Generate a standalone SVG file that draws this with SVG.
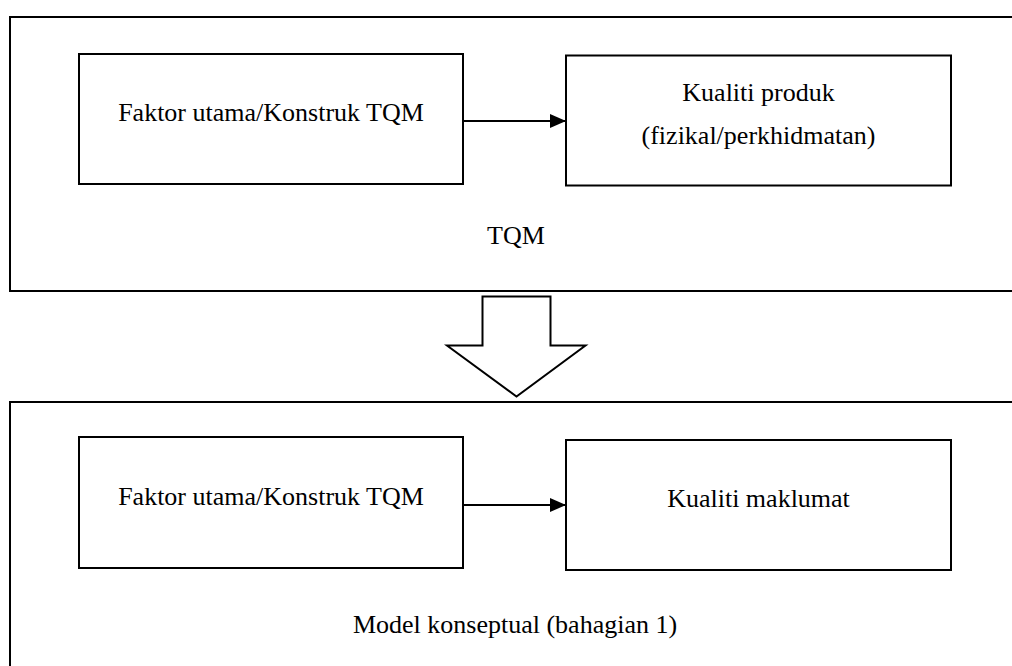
<svg xmlns="http://www.w3.org/2000/svg" width="1012" height="666" viewBox="0 0 1012 666">
  <style>
    .frame { fill: none; stroke: #000; stroke-width: 2; }
    .box { fill: #fff; stroke: #000; stroke-width: 2; }
    .label { font-family: "Liberation Serif", "Times New Roman", serif; font-size: 26px; fill: #000; text-anchor: middle; }
    .link { stroke: #000; stroke-width: 2; fill: none; marker-end: url(#head); }
  </style>
  <defs>
    <marker id="head" markerWidth="16" markerHeight="14" refX="16" refY="7" orient="auto" markerUnits="userSpaceOnUse">
      <path d="M0,0 L16,7 L0,14 Z" fill="#000"/>
    </marker>
  </defs>
  <rect width="1012" height="666" fill="#fff"/>

  <!-- upper panel: TQM -->
  <g id="panel-tqm">
    <rect class="frame" x="10" y="17" width="1012" height="274"/>
    <text class="label" x="516" y="244">TQM</text>
  </g>
  <g id="tqm-factor">
    <rect class="box" x="79" y="54" width="384" height="130"/>
    <text class="label" x="271" y="121">Faktor utama/Konstruk TQM</text>
  </g>
  <g id="tqm-product">
    <rect class="box" x="566" y="55.5" width="385" height="130"/>
    <text class="label" x="758.5" y="101">Kualiti produk</text>
    <text class="label" x="758.5" y="144">(fizikal/perkhidmatan)</text>
  </g>

  <!-- lower panel: conceptual model -->
  <g id="panel-model">
    <rect class="frame" x="10" y="402" width="1012" height="280"/>
    <text class="label" x="515" y="633">Model konseptual (bahagian 1)</text>
  </g>
  <g id="model-factor">
    <rect class="box" x="79" y="437" width="384" height="131"/>
    <text class="label" x="271" y="505">Faktor utama/Konstruk TQM</text>
  </g>
  <g id="model-info">
    <rect class="box" x="566" y="440" width="385" height="130"/>
    <text class="label" x="758.5" y="507">Kualiti maklumat</text>
  </g>

  <!-- connectors -->
  <g id="connectors">
    <line class="link" x1="463" y1="121" x2="566" y2="121"/>
    <line class="link" x1="463" y1="505" x2="566" y2="505"/>
    <path id="block-arrow" d="M482.5,296.5 L550.5,296.5 L550.5,345.5 L585.5,345.5 L516.5,396.5 L447,345.5 L482.5,345.5 Z" fill="#fff" stroke="#000" stroke-width="2"/>
  </g>
</svg>
